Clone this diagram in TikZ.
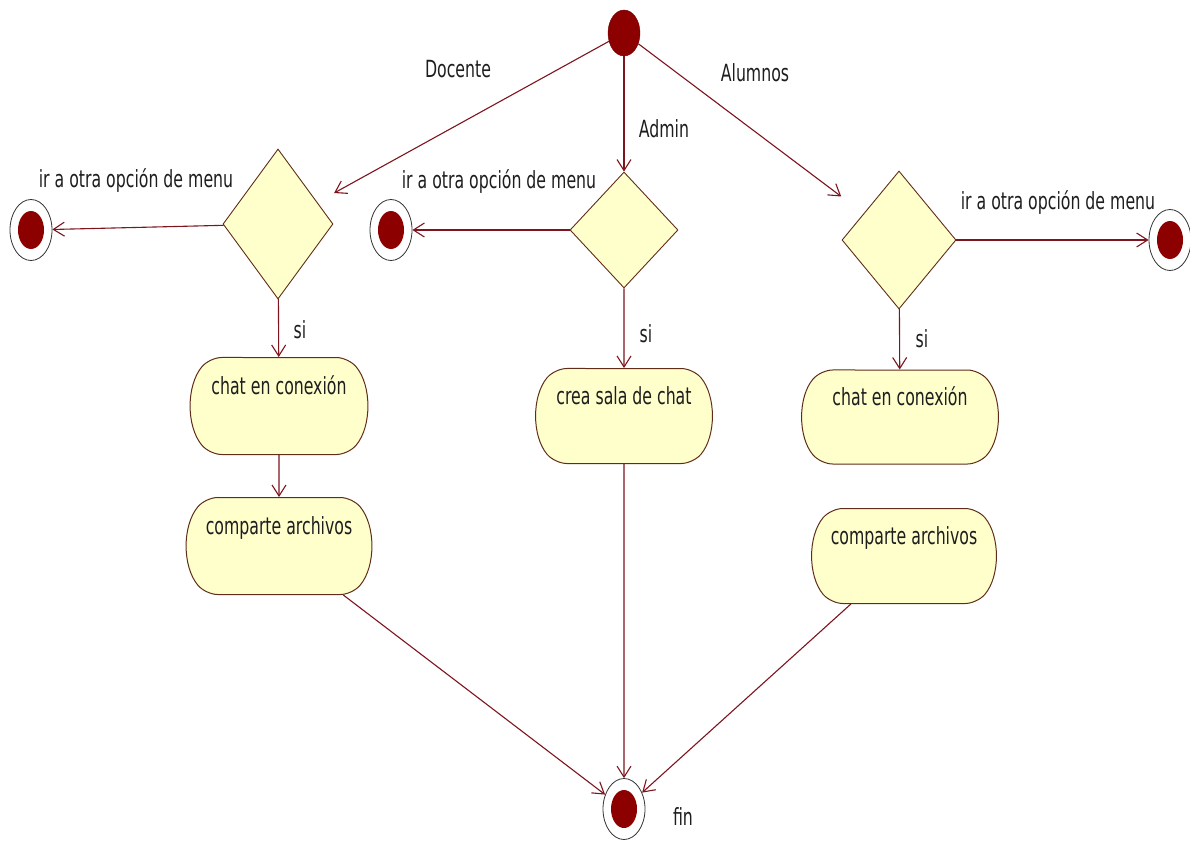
\documentclass[tikz,border=0pt]{standalone}
\usepackage{fontspec}
\setmainfont{DejaVu Sans Condensed}
\usepackage{graphicx}
\usetikzlibrary{shapes.geometric,shapes.misc,arrows.meta}

\definecolor{conn}{RGB}{125,20,30}
\definecolor{nodered}{RGB}{140,0,0}
\definecolor{pale}{RGB}{255,255,204}
\definecolor{outline}{RGB}{95,45,25}
\definecolor{ink}{RGB}{30,30,30}

% text is set tall and narrow
\newcommand{\tallText}[1]{\scalebox{1}[1.35]{#1}}

\tikzset{
  startnode/.style={ellipse, fill=nodered, draw=nodered!80!black,
    minimum width=32pt, minimum height=46pt, inner sep=0pt},
  endnode/.style={ellipse, draw=black!80, line width=0.8pt, fill=white,
    minimum width=42pt, minimum height=61pt, inner sep=0pt,
    path picture={\fill[nodered] (path picture bounding box.center)
      ellipse [x radius=13pt, y radius=19pt];}},
  decision/.style={diamond, draw=outline, fill=pale, line width=0.9pt, inner sep=0pt},
  activity/.style={rounded rectangle, rounded rectangle arc length=80,
    rounded corners=12pt,
    draw=outline, fill=pale, line width=1pt, inner sep=0pt,
    text=ink, font=\fontsize{17.5pt}{21pt}\selectfont,
    text height=14pt, text depth=37pt},
  flow/.style={draw=conn, line width=1.1pt, -{Straight Barb[length=11pt,width=14pt]}},
  lbl/.style={text=ink, inner sep=0pt, font=\fontsize{17.5pt}{21pt}\selectfont},
}

\begin{document}
\begin{tikzpicture}[x=1pt,y=-1pt]
\useasboundingbox (0,0) rectangle (1190,840);

% start and decisions
\node[startnode] (start) at (624,33) {};
\node[decision, minimum width=110pt, minimum height=150pt] (D1) at (278,224) {};
\node[decision, minimum width=108pt, minimum height=116pt] (D2) at (624,230) {};
\node[decision, minimum width=114pt, minimum height=138pt] (D3) at (899,240) {};

% final states
\node[endnode] (F1) at (31,230) {};
\node[endnode] (F2) at (391,230) {};
\node[endnode] (F3) at (1170,240) {};
\node[endnode] (Fend) at (624,809) {};

% activities
\node[activity, minimum width=174pt, minimum height=97pt] (B1) at (279,406) {\tallText{chat en conexión}};
\node[activity, minimum width=182pt, minimum height=97pt] (B2) at (279,546) {\tallText{comparte archivos}};
\node[activity, minimum width=173pt, minimum height=95pt] (B3) at (624,416) {\tallText{crea sala de chat}};
\node[activity, minimum width=193pt, minimum height=94pt] (B4) at (900,417) {\tallText{chat en conexión}};
\node[activity, minimum width=181pt, minimum height=95pt] (B5) at (904,556) {\tallText{comparte archivos}};

% transitions
\draw[flow, shorten >=19pt] (start) -- (D1);
\draw[flow] (start) -- (D2);
\draw[flow, shorten >=28pt] (start) -- (D3);
\draw[flow] (D1) -- (F1);
\draw[flow] (D2) -- (F2);
\draw[flow] (D3) -- (F3);
\draw[flow] (D1) -- (B1);
\draw[flow] (B1) -- (B2);
\draw[flow] (D2) -- (B3);
\draw[flow] (D3) -- (B4);
\draw[flow] (B2) -- (Fend);
\draw[flow] (B3) -- (Fend);
\draw[flow] (B5) -- (Fend);

% labels
\node[lbl] (tDoc) at (458,69) {\tallText{Docente}};
\node[lbl] (tAdm) at (664,129) {\tallText{Admin}};
\node[lbl] (tAlu) at (755,73) {\tallText{Alumnos}};
\node[lbl] (tM1) at (136,181) {\tallText{ir a otra opción de menu}};
\node[lbl] (tM2) at (499,182) {\tallText{ir a otra opción de menu}};
\node[lbl] (tM3) at (1058,203) {\tallText{ir a otra opción de menu}};
\node[lbl] (tS1) at (300,330) {\tallText{si}};
\node[lbl] (tS2) at (646,334) {\tallText{si}};
\node[lbl] (tS3) at (922,339) {\tallText{si}};
\node[lbl] (tFin) at (683,817) {\tallText{fin}};
\end{tikzpicture}
\end{document}
